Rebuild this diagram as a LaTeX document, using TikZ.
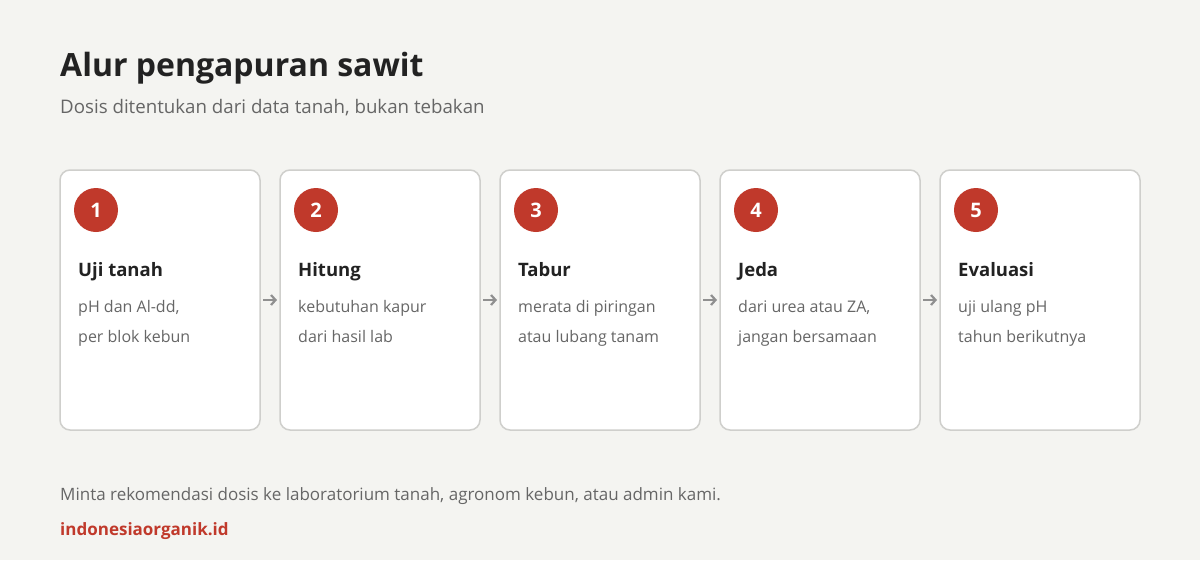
\documentclass[tikz,border=0pt]{standalone}
\usepackage{fontspec}
\setmainfont{Open Sans}
\usetikzlibrary{positioning, arrows.meta}
\definecolor{bgcol}{HTML}{F4F4F1}
\definecolor{cardline}{HTML}{CFCFCC}
\definecolor{badgered}{HTML}{C0392B}
\definecolor{titlecol}{HTML}{222222}
\definecolor{textcol}{HTML}{666666}
\definecolor{arrowcol}{HTML}{909090}
\tikzset{
x=1pt, y=-1pt, % work in pixels of the 1200x560 canvas
card/.style={draw=cardline, line width=1.5pt, fill=white, rounded corners=10pt,
  minimum width=200pt, minimum height=260pt, inner sep=0pt, outer sep=0pt}, % one step box
badge/.style={circle, fill=badgered, minimum size=44pt, inner sep=0pt,
  text=white, font=\bfseries\fontsize{20}{22}\selectfont}, % red number disc
head/.style={anchor=base west, inner sep=0pt, text=titlecol,
  font=\bfseries\fontsize{18.5}{20}\selectfont}, % step name
body/.style={anchor=base west, inner sep=0pt, text=textcol, align=left,
  font=\fontsize{16}{30}\selectfont}, % step description (anchored at its last line)
flow/.style={-{Straight Barb[length=4.5pt,width=10pt]}, draw=arrowcol, line width=2.2pt}, % arrow between boxes
}

\begin{document}
\begin{tikzpicture}
  \useasboundingbox[fill=bgcol] (0,0) rectangle (1200,560);

  % heading
  \node[anchor=base west, inner sep=0pt, text=titlecol, font=\bfseries\fontsize{32}{36}\selectfont]
    (title) at (60,76) {Alur pengapuran sawit};
  \node[anchor=base west, inner sep=0pt, text=textcol, font=\fontsize{18.7}{22}\selectfont]
    (subtitle) at (60,113) {Dosis ditentukan dari data tanah, bukan tebakan};

  % steps
  \node[card] (c1) at (160,300) {};
  \node[card, right=20pt of c1] (c2) {};
  \node[card, right=20pt of c2] (c3) {};
  \node[card, right=20pt of c3] (c4) {};
  \node[card, right=20pt of c4] (c5) {};

  \node[badge] (n1) at ([xshift=36pt,yshift=-40pt]c1.north west) {1};
  \node[badge] (n2) at ([xshift=36pt,yshift=-40pt]c2.north west) {2};
  \node[badge] (n3) at ([xshift=36pt,yshift=-40pt]c3.north west) {3};
  \node[badge] (n4) at ([xshift=36pt,yshift=-40pt]c4.north west) {4};
  \node[badge] (n5) at ([xshift=36pt,yshift=-40pt]c5.north west) {5};

  \node[head] (h1) at ([xshift=18pt,yshift=-106pt]c1.north west) {Uji tanah};
  \node[head] (h2) at ([xshift=18pt,yshift=-106pt]c2.north west) {Hitung};
  \node[head] (h3) at ([xshift=18pt,yshift=-106pt]c3.north west) {Tabur};
  \node[head] (h4) at ([xshift=18pt,yshift=-106pt]c4.north west) {Jeda};
  \node[head] (h5) at ([xshift=18pt,yshift=-106pt]c5.north west) {Evaluasi};

  \node[body] (b1) at ([xshift=18pt,yshift=-172pt]c1.north west) {pH dan Al-dd,\\per blok kebun};
  \node[body] (b2) at ([xshift=18pt,yshift=-172pt]c2.north west) {kebutuhan kapur\\dari hasil lab};
  \node[body] (b3) at ([xshift=18pt,yshift=-172pt]c3.north west) {merata di piringan\\atau lubang tanam};
  \node[body] (b4) at ([xshift=18pt,yshift=-172pt]c4.north west) {dari urea atau ZA,\\jangan bersamaan};
  \node[body] (b5) at ([xshift=18pt,yshift=-172pt]c5.north west) {uji ulang pH\\tahun berikutnya};

  \draw[flow] ([xshift=3pt]c1.east) -- ([xshift=-3pt]c2.west);
  \draw[flow] ([xshift=3pt]c2.east) -- ([xshift=-3pt]c3.west);
  \draw[flow] ([xshift=3pt]c3.east) -- ([xshift=-3pt]c4.west);
  \draw[flow] ([xshift=3pt]c4.east) -- ([xshift=-3pt]c5.west);

  % footer
  \node[anchor=base west, inner sep=0pt, text=textcol, font=\fontsize{17}{20}\selectfont]
    (note) at (60,500) {Minta rekomendasi dosis ke laboratorium tanah, agronom kebun, atau admin kami.};
  \node[anchor=base west, inner sep=0pt, text=badgered, font=\bfseries\fontsize{17}{20}\selectfont]
    (site) at (60,535) {indonesiaorganik.id};
\end{tikzpicture}
\end{document}
